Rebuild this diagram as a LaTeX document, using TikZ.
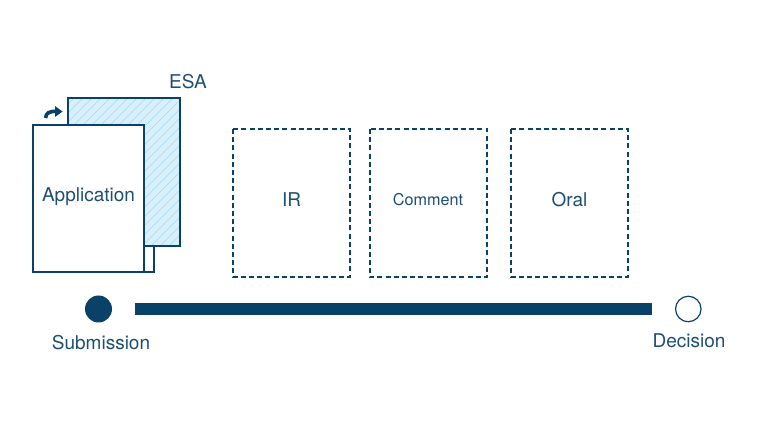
\documentclass[tikz,border=0pt]{standalone}
\usepackage{fontspec}
\setmainfont{TeX Gyre Heros}
\definecolor{navy}{HTML}{0A4166}
\definecolor{txt}{HTML}{1E4F73}
\definecolor{esafill}{HTML}{D8F0FC}
\definecolor{hatch}{HTML}{A6DAF3}
\begin{document}
\begin{tikzpicture}[x=1pt,y=-1pt,
  page/.style={draw=navy,line width=1.1pt,fill=white},
  stage/.style={draw=navy,line width=2pt,dash pattern=on 5pt off 3.2pt,fill=white},
  lbl/.style={text=txt,font=\fontsize{19}{21}\selectfont,inner sep=0pt},
  small/.style={text=txt,font=\fontsize{16.2}{18}\selectfont,inner sep=0pt}]
\useasboundingbox (0,0) rectangle (760,427);
% third page (behind)
\draw[page] (72,140) rectangle (154,272);
% ESA page
\fill[esafill] (68,98) rectangle (180,246);
\begin{scope}
\clip (68,98) rectangle (180,246);
\foreach \i in {0,9,...,270}{
  \draw[hatch,line width=0.6pt] (68+\i-160,246) -- (68+\i,86);
}
\end{scope}
\draw[navy,line width=1.1pt] (68,98) rectangle (180,246);
\node[lbl,anchor=center] (esa) at (188,82) {ESA};
% front page
\draw[page] (33,125) rectangle (144,272);
\node[lbl] (app) at (88.5,197) {Application};
% curved arrow icon
\draw[navy,line width=3.6pt] (45.5,118) .. controls (46,112.5) and (50,111.3) .. (56,111.3);
\fill[navy] (55,106) -- (62.5,111.6) -- (55,117) -- cycle;
% stage boxes
\draw[stage] (233,129) rectangle (350,277);
\node[lbl] (ir) at (291.5,200) {IR};
\draw[stage] (369.5,129) rectangle (487,277);
\node[small] (comment) at (428,200) {Comment};
\draw[stage] (511,129) rectangle (628,277);
\node[lbl] (oral) at (569.5,200) {Oral};
% timeline
\node[circle,fill=navy,minimum size=27pt,inner sep=0pt] (sub) at (98.5,309) {};
\node[circle,draw=navy,line width=1.2pt,fill=white,minimum size=25.5pt,inner sep=0pt] (dec) at (688.3,309) {};
\draw[navy,line width=12pt] ([xshift=36pt]sub.center) -- ([xshift=-36pt]dec.center);
\node[lbl] (sublbl) at (101,343) {Submission};
\node[lbl] (declbl) at (689,341) {Decision};
\end{tikzpicture}
\end{document}
